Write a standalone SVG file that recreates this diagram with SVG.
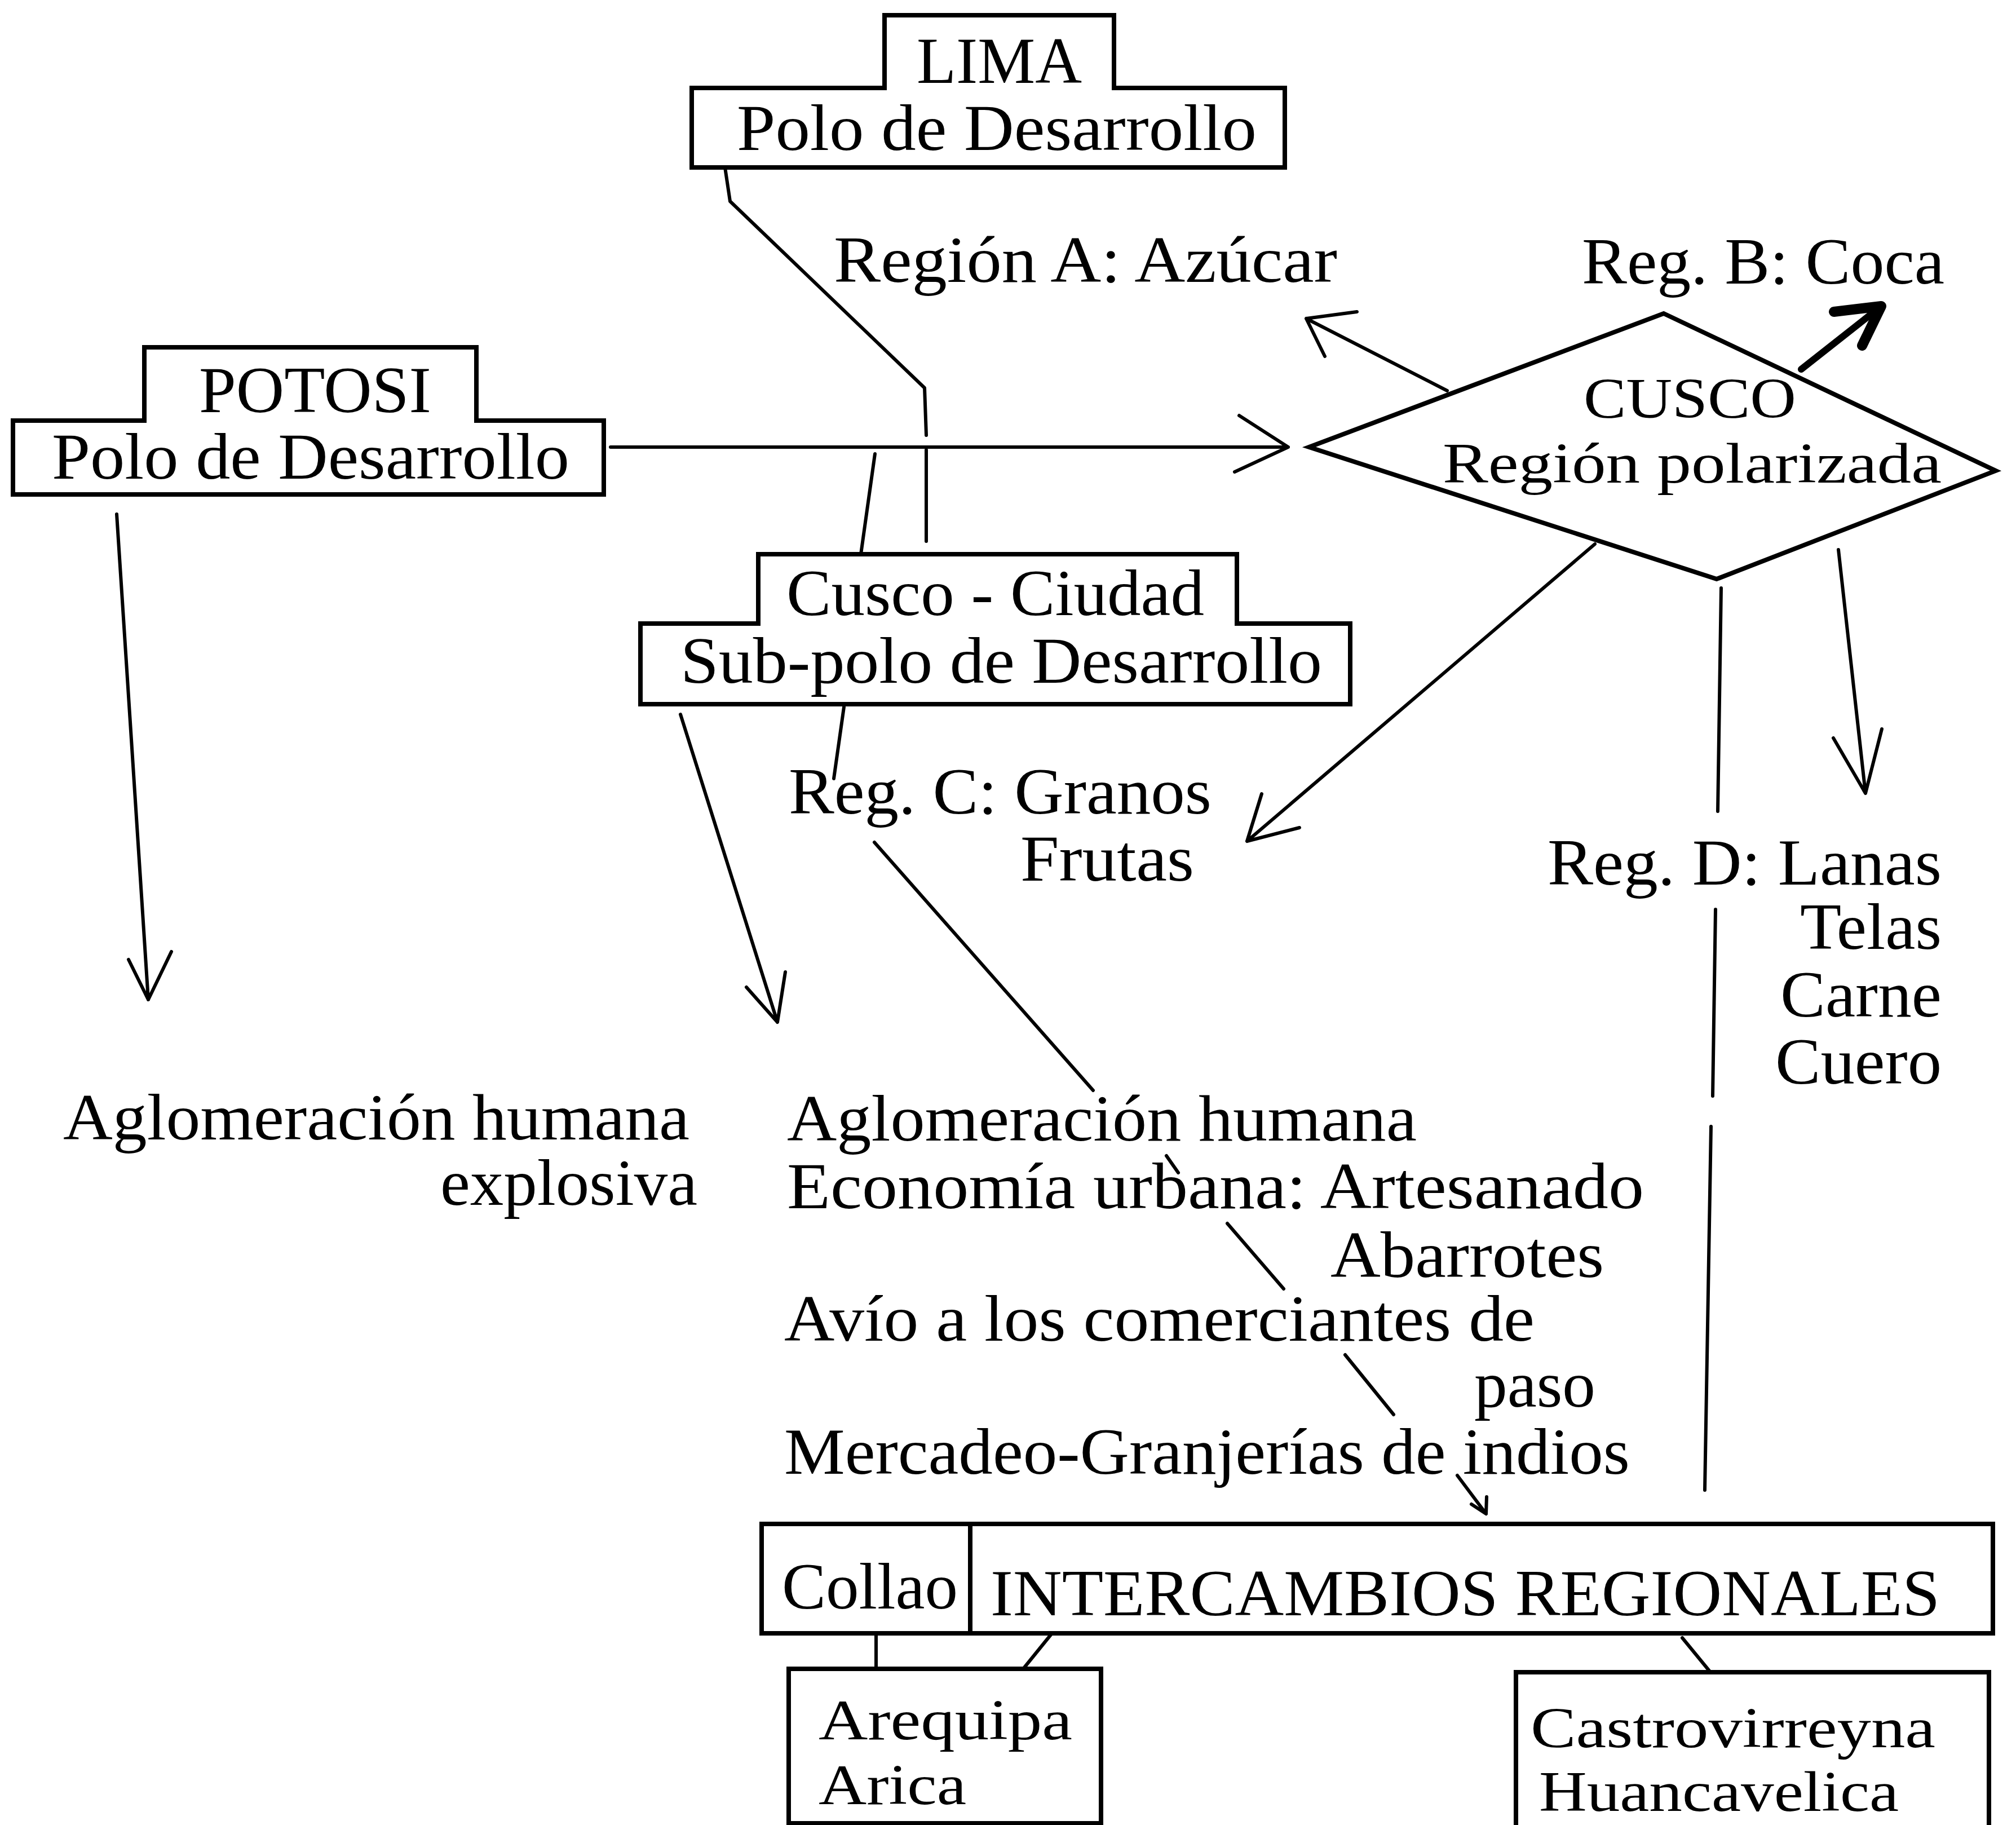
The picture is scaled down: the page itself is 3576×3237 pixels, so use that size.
<svg xmlns="http://www.w3.org/2000/svg" width="3576" height="3237" viewBox="0 0 3576 3237">
<style>
.box{fill:none;stroke:#000;stroke-width:8;stroke-linejoin:miter}
.ln{fill:none;stroke:#000;stroke-width:6;stroke-linecap:round;stroke-linejoin:round}
.thk{fill:none;stroke:#000;stroke-width:12;stroke-linecap:round;stroke-linejoin:round}
text{font-family:"Liberation Serif","Times New Roman",serif;font-size:116px;fill:#000}
.tight{font-size:101px}
</style>
<rect x="0" y="0" width="3576" height="3237" fill="#fff"/>

<g id="lima">
<path class="box" d="M1227,156 H1569 V27 H1976 V156 H2279 V297 H1227 Z"/>
<text x="1626" y="147" textLength="293" lengthAdjust="spacingAndGlyphs">LIMA</text>
<text x="1307" y="266" textLength="922" lengthAdjust="spacingAndGlyphs">Polo de Desarrollo</text>
</g>

<g id="region-a">
<text x="1479" y="500" textLength="893" lengthAdjust="spacingAndGlyphs">Región A: Azúcar</text>
</g>

<g id="region-b">
<text x="2806" y="503" textLength="643" lengthAdjust="spacingAndGlyphs">Reg. B: Coca</text>
</g>

<g id="potosi">
<path class="box" d="M23,746 H256 V616 H845 V746 H1071 V877 H23 Z"/>
<text x="353" y="731" textLength="412" lengthAdjust="spacingAndGlyphs">POTOSI</text>
<text x="92" y="849" textLength="918" lengthAdjust="spacingAndGlyphs">Polo de Desarrollo</text>
</g>

<g id="cusco-region">
<path class="box" d="M2322,793 L2951,556 L3540,835 L3045,1027 Z"/>
<text class="tight" x="2809" y="741" textLength="377" lengthAdjust="spacingAndGlyphs">CUSCO</text>
<text class="tight" x="2559" y="856" textLength="885" lengthAdjust="spacingAndGlyphs">Región polarizada</text>
</g>

<g id="cusco-ciudad">
<path class="box" d="M1136,1106 H1345 V983 H2194 V1106 H2395 V1249 H1136 Z"/>
<text x="1395" y="1091" textLength="741" lengthAdjust="spacingAndGlyphs">Cusco - Ciudad</text>
<text x="1207" y="1211" textLength="1138" lengthAdjust="spacingAndGlyphs">Sub-polo de Desarrollo</text>
</g>

<g id="region-c">
<text x="1399" y="1443" textLength="750" lengthAdjust="spacingAndGlyphs">Reg. C: Granos</text>
<text x="1810" y="1562" textLength="308" lengthAdjust="spacingAndGlyphs">Frutas</text>
</g>

<g id="region-d">
<text x="2745" y="1569" textLength="699" lengthAdjust="spacingAndGlyphs">Reg. D: Lanas</text>
<text x="3193" y="1683" textLength="251" lengthAdjust="spacingAndGlyphs">Telas</text>
<text x="3158" y="1803" textLength="286" lengthAdjust="spacingAndGlyphs">Carne</text>
<text x="3149" y="1922" textLength="295" lengthAdjust="spacingAndGlyphs">Cuero</text>
</g>

<g id="aglomeracion-potosi">
<text x="112" y="2021" textLength="1111" lengthAdjust="spacingAndGlyphs">Aglomeración humana</text>
<text x="781" y="2137" textLength="456" lengthAdjust="spacingAndGlyphs">explosiva</text>
</g>

<g id="aglomeracion-cusco">
<text x="1396" y="2023" textLength="1117" lengthAdjust="spacingAndGlyphs">Aglomeración humana</text>
<text x="1396" y="2143" textLength="1520" lengthAdjust="spacingAndGlyphs">Economía urbana: Artesanado</text>
<text x="2360" y="2265" textLength="485" lengthAdjust="spacingAndGlyphs">Abarrotes</text>
<text x="1391" y="2378" textLength="1331" lengthAdjust="spacingAndGlyphs">Avío a los comerciantes de</text>
<text x="2615" y="2495" textLength="215" lengthAdjust="spacingAndGlyphs">paso</text>
<text x="1391" y="2614" textLength="1500" lengthAdjust="spacingAndGlyphs">Mercadeo-Granjerías de indios</text>
</g>

<g id="intercambios">
<rect class="box" x="1351" y="2703" width="2184" height="194"/>
<line class="box" x1="1721" y1="2703" x2="1721" y2="2897"/>
<text x="1387" y="2853" textLength="312" lengthAdjust="spacingAndGlyphs">Collao</text>
<text x="1757" y="2865" textLength="1684" lengthAdjust="spacingAndGlyphs">INTERCAMBIOS REGIONALES</text>
</g>

<g id="arequipa">
<rect class="box" x="1399" y="2960" width="554" height="274"/>
<text class="tight" x="1452" y="3085" textLength="450" lengthAdjust="spacingAndGlyphs">Arequipa</text>
<text class="tight" x="1452" y="3200" textLength="262" lengthAdjust="spacingAndGlyphs">Arica</text>
</g>

<g id="castrovirreyna">
<path class="box" d="M2689,3260 V2966 H3528 V3260"/>
<text class="tight" x="2715" y="3099" textLength="718" lengthAdjust="spacingAndGlyphs">Castrovirreyna</text>
<text class="tight" x="2730" y="3212" textLength="638" lengthAdjust="spacingAndGlyphs">Huancavelica</text>
</g>

<g id="connectors">
<path class="ln" d="M1286,297 L1295,357 L1640,688 L1643,772 M1643,798 L1643,960"/>
<path class="ln" d="M1527,983 L1552,805"/>
<path class="ln" d="M1083,793 L2285,793 M2198,737 L2285,793 L2190,837"/>
<path class="ln" d="M207,912 L263,1773 M228,1702 L263,1773 L304,1688"/>
<path class="ln" d="M1207,1267 L1379,1813 M1324,1751 L1379,1813 L1393,1724"/>
<path class="ln" d="M1497,1254 L1479,1381"/>
<path class="ln" d="M1551,1494 L1939,1934 M2069,2050 L2090,2080 M2177,2170 L2277,2286 M2386,2403 L2472,2509 M2585,2617 L2636,2685 M2610,2668 L2636,2685 L2637,2655"/>
<path class="ln" d="M2567,693 L2317,565 M2407,553 L2317,565 L2350,632"/>
<path class="thk" d="M3195,655 L3337,543"/>
<path class="ln" d="M3253,553 L3337,543 L3303,613" style="stroke-width:18"/>
<path class="ln" d="M2829,965 L2212,1492 M2238,1408 L2212,1492 L2305,1468"/>
<path class="ln" d="M3261,975 L3309,1407 M3252,1309 L3309,1407 L3338,1293"/>
<path class="ln" d="M3053,1043 L3047,1439 M3043,1613 L3038,1944 M3035,1998 L3024,2643"/>
<path class="ln" d="M1554,2897 L1554,2960 M1866,2897 L1815,2960 M2984,2905 L3034,2966"/>
</g>
</svg>
